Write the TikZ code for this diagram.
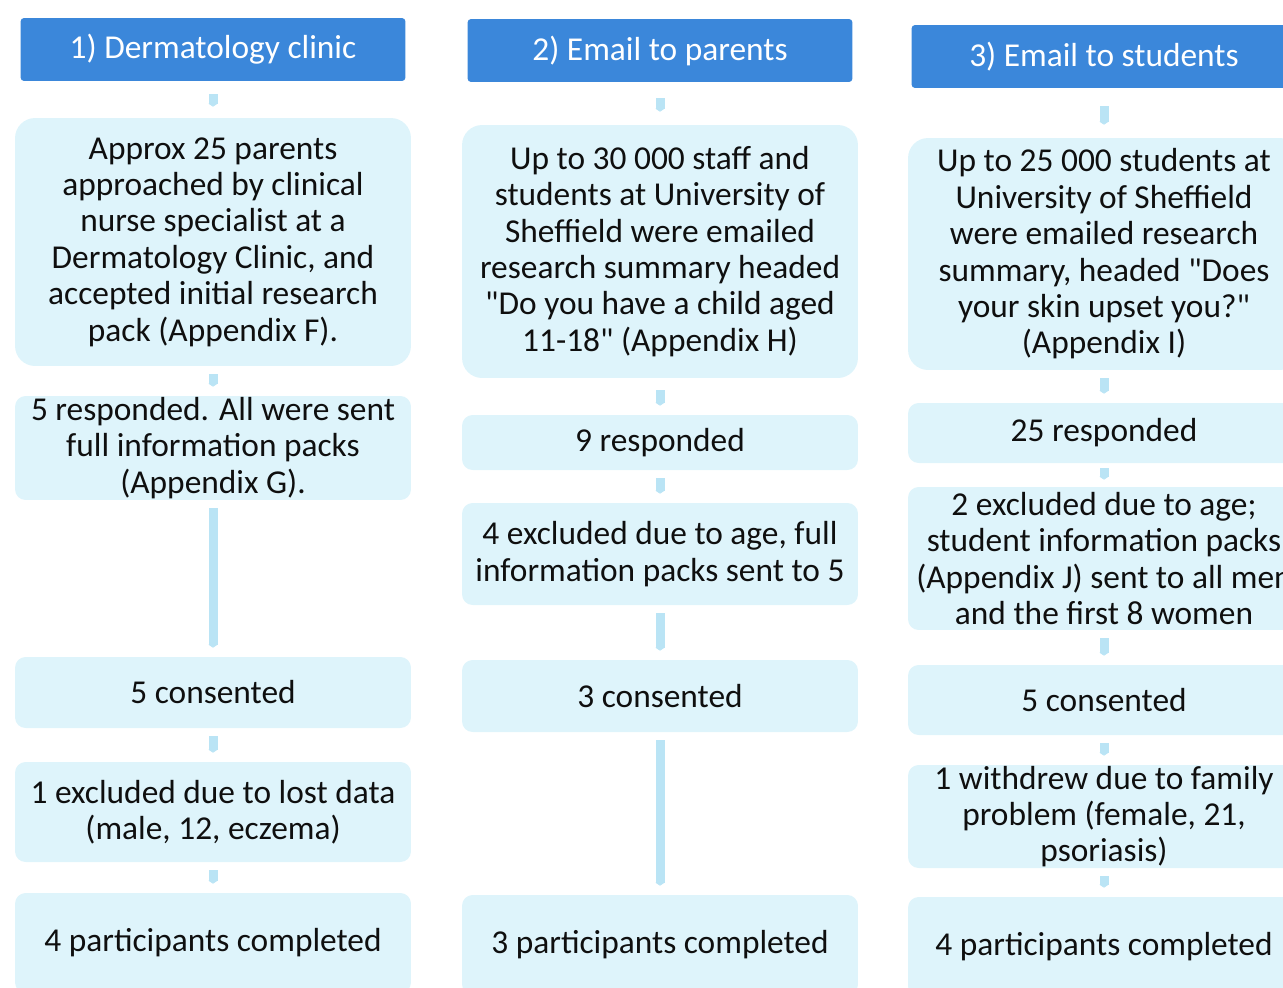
\documentclass[tikz,border=0pt]{standalone}
\usepackage{fontspec}
\setmainfont{Carlito}[Ligatures=TeXOff]
\usetikzlibrary{positioning, arrows.meta}

\definecolor{headblue}{RGB}{59,135,218}
\definecolor{boxcyan}{RGB}{222,244,251}
\definecolor{linkblue}{RGB}{186,228,245}
\definecolor{inktext}{RGB}{15,15,15}

\begin{document}
\begin{tikzpicture}[
  x=0.02cm, y=-0.02cm,
  headbox/.style={rectangle, fill=headblue, rounded corners=2pt, text=white, minimum width=7.7cm, minimum height=1.26cm, inner sep=0pt, font=\fontsize{19}{20.7}\selectfont},
  infobox/.style={rectangle, fill=boxcyan, rounded corners=6pt, text=inktext, minimum width=7.92cm, align=center, inner sep=0pt, font=\fontsize{19}{20.7}\selectfont},
  arrow/.style={-{Triangle[length=0.06cm, width=0.18cm]}, line width=0.18cm, draw=linkblue, shorten <=0.16cm, shorten >=0.18cm}
]
\useasboundingbox (0,0) rectangle (1283,987);

% Column 1 nodes
\node[headbox] (derm) at (213,49.5) {1) Dermatology clinic};
\node[infobox, minimum height=4.96cm, rounded corners=0.4cm] (approached) at (213,242) {Approx 25 parents\\ approached by clinical\\ nurse specialist at a\\ Dermatology Clinic, and\\ accepted initial research\\ pack (Appendix F).};
\node[infobox, minimum height=2.08cm] (respderm) at (213,448) {5 responded. All were sent\\ full information packs\\ (Appendix G).};
\node[infobox, minimum height=1.42cm] (consderm) at (213,692.5) {5 consented};
\node[infobox, minimum height=2cm] (lostdata) at (213,812) {1 excluded due to lost data\\ (male, 12, eczema)};
\node[infobox, minimum height=2cm] (donederm) at (213,943) {4 participants completed};

% Column 2 nodes
\node[headbox] (parents) at (660,50.5) {2) Email to parents};
\node[infobox, minimum height=5.06cm, rounded corners=0.4cm] (staffmail) at (660,251.5) {Up to 30 000 staff and\\ students at University of\\ Sheffield were emailed\\ research summary headed\\ "Do you have a child aged\\ 11-18" (Appendix H)};
\node[infobox, minimum height=1.1cm] (resppar) at (660,442.5) {9 responded};
\node[infobox, minimum height=2.04cm] (agepar) at (660,554) {4 excluded due to age, full\\ information packs sent to 5};
\node[infobox, minimum height=1.44cm] (conspar) at (660,696) {3 consented};
\node[infobox, minimum height=2cm] (donepar) at (660,945) {3 participants completed};

% Column 3 nodes
\node[headbox] (students) at (1104,56.5) {3) Email to students};
\node[infobox, minimum width=7.84cm, minimum height=4.64cm, rounded corners=0.4cm] (studmail) at (1104,254) {Up to 25 000 students at\\ University of Sheffield\\ were emailed research\\ summary, headed "Does\\ your skin upset you?"\\ (Appendix I)};
\node[infobox, minimum width=7.84cm, minimum height=1.2cm] (respstud) at (1104,433) {25 responded};
\node[infobox, minimum width=7.84cm, minimum height=2.86cm] (agestud) at (1104,558.5) {2 excluded due to age;\\ student information packs\\ (Appendix J) sent to all men\\ and the first 8 women};
\node[infobox, minimum width=7.84cm, minimum height=1.4cm] (consstud) at (1104,700) {5 consented};
\node[infobox, minimum width=7.84cm, minimum height=2.06cm] (withdrew) at (1104,816.5) {1 withdrew due to family\\ problem (female, 21,\\ psoriasis)};
\node[infobox, minimum width=7.84cm, minimum height=2cm] (donestud) at (1104,947) {4 participants completed};

% Connectors
\draw[arrow, shorten <=0.26cm, shorten >=0.22cm] (derm) -- (approached);
\draw[arrow] (approached) -- (respderm);
\draw[arrow] (respderm) -- (consderm);
\draw[arrow] (consderm) -- (lostdata);
\draw[arrow] (lostdata) -- (donederm);

\draw[arrow, shorten <=0.32cm, shorten >=0.26cm] (parents) -- (staffmail);
\draw[arrow, shorten <=0.24cm] (staffmail) -- (resppar);
\draw[arrow] (resppar) -- (agepar);
\draw[arrow] (agepar) -- (conspar);
\draw[arrow] (conspar) -- (donepar);

\draw[arrow, shorten <=0.36cm, shorten >=0.26cm] (students) -- (studmail);
\draw[arrow] (studmail) -- (respstud);
\draw[arrow, shorten <=0.1cm, shorten >=0.14cm] (respstud) -- (agestud);
\draw[arrow] (agestud) -- (consstud);
\draw[arrow] (consstud) -- (withdrew);
\draw[arrow] (withdrew) -- (donestud);

\end{tikzpicture}
\end{document}
